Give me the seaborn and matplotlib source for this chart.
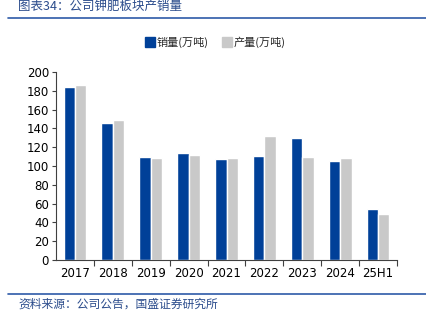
import matplotlib
matplotlib.use("Agg")
import matplotlib.pyplot as plt
import seaborn as sns
import pandas as pd
from matplotlib.lines import Line2D

categories = ["2017", "2018", "2019", "2020", "2021", "2022", "2023", "2024", "25H1"]
sales = [184, 145.5, 110, 114, 107.5, 111, 130, 105.5, 54]
production = [186, 149, 109, 112, 108.5, 132, 110, 108, 49]
series_names = ["销量(万吨)", "产量(万吨)"]
colors = ["#004098", "#C9C9C9"]
title = "图表34：公司钾肥板块产销量"
source = "资料来源：公司公告，国盛证券研究所"

sns.set_theme(style="white")
plt.rcParams['font.family'] = ['Noto Sans CJK SC', 'DejaVu Sans']

df = pd.DataFrame({
    "cat": categories * 2,
    "val": sales + production,
    "series": [series_names[0]] * len(categories) + [series_names[1]] * len(categories),
})

fig = plt.figure(figsize=(4.26, 3.23), dpi=100)
ax = fig.add_axes([56/426, 1 - 260/323, (397-56)/426, (260-72)/323])
sns.barplot(data=df, x="cat", y="val", hue="series", palette=colors, width=0.6,
            ax=ax, legend=False, saturation=1)

ax.set_ylim(0, 200)
ax.set_yticks(range(0, 201, 20))
ax.set_xlim(-0.5, len(categories) - 0.5)
ax.set_xlabel("")
ax.set_ylabel("")
for s in ["top", "right"]:
    ax.spines[s].set_visible(False)
for s in ["left", "bottom"]:
    ax.spines[s].set_color("#404040")
    ax.spines[s].set_linewidth(0.8)
ax.tick_params(axis="y", length=3, width=0.8, colors="#404040", labelsize=8.5, pad=2,
               labelcolor="black", left=True)
ax.tick_params(axis="x", length=0, labelsize=8.5, pad=5, labelcolor="black")
for lbl in ax.get_xticklabels() + ax.get_yticklabels():
    lbl.set_family(["DejaVu Sans"])
# category separator ticks on x axis
ax.set_xticks([i + 0.5 for i in range(len(categories))], minor=True)
ax.tick_params(axis="x", which="minor", length=4, width=0.8, color="#404040", direction="out", bottom=True)

handles = [Line2D([0], [0], marker="s", color="none", markerfacecolor=c, markeredgecolor=c,
                  markersize=7) for c in colors]
fig.legend(handles, series_names, loc="center", bbox_to_anchor=(215/426, 1 - 42/323),
           ncol=2, frameon=False, fontsize=8, handletextpad=0.1, columnspacing=1.2,
           handlelength=1.0)

fig.text(18/426, 1 - 6/323, title, color="#2B4C8C", fontsize=9, ha="left", va="center",
         style="italic")
fig.add_artist(Line2D([8/426, 1.0], [1 - 18/323, 1 - 18/323], color="#2E5AA8", lw=1.2))
fig.add_artist(Line2D([8/426, 1.0], [1 - 294/323, 1 - 294/323], color="#2E5AA8", lw=1.2))
fig.text(18/426, 1 - 304/323, source, color="#2B4C8C", fontsize=8.5, ha="left", va="center",
         style="italic")

fig.savefig("out.png", dpi=100)
